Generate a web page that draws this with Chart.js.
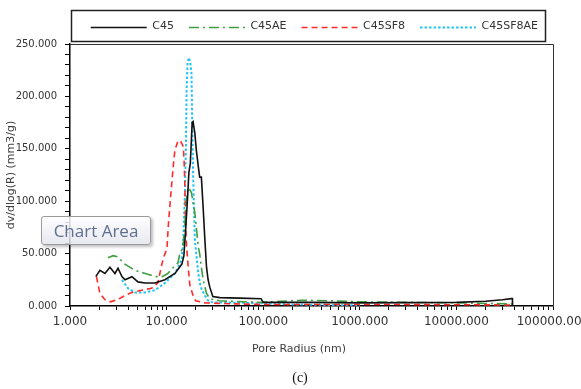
<!DOCTYPE html>
<html>
<head>
<meta charset="utf-8">
<script src="https://cdn.jsdelivr.net/npm/chart.js@4/dist/chart.umd.min.js"></script>
<style>
  html, body { margin: 0; padding: 0; background: #fff; }
  #wrap { position: relative; width: 581px; height: 389px; overflow: hidden; }
  #c { position: absolute; left: 0; top: 0; }
  .lbl { position: absolute; white-space: nowrap; transform: translate(-50%, -50%); }
  #xtitle { left: 299px; top: 348px; font: 11px "DejaVu Sans", sans-serif; color: #404040; }
  #caption { left: 300px; top: 378px; font: 14px "Liberation Serif", serif; color: #111; }
  #tip { position: absolute; left: 41px; top: 216px; width: 108px; height: 27px;
         border: 1px solid #9a9a9a; border-radius: 3px;
         background: linear-gradient(rgba(253,253,253,0.85), rgba(228,229,238,0.85));
         box-shadow: 2px 2px 3px rgba(0,0,0,0.25);
         font: 17px "Open Sans", sans-serif; color: #5f6f8f; text-align: center; line-height: 27px; }
</style>
</head>
<body>
<div id="wrap">
  <canvas id="c" width="581" height="389"></canvas>
  <div id="xtitle" class="lbl">Pore Radius (nm)</div>
  <div id="caption" class="lbl">(c)</div>
  <div id="tip">Chart Area</div>
</div>
<script>
// ---- data (pore radius in nm, dv/dlog(R) in mm3/g) ----
const seriesNames = ["C45", "C45AE", "C45SF8", "C45SF8AE"];

const c45R = [1.85, 2.04, 2.3, 2.59, 2.92, 3.14, 3.45, 3.71, 4.38, 5.05, 5.97, 7.57, 9.6, 12.2, 14.4, 15.1, 15.8, 16.5, 17.0, 17.6, 18.4, 18.8, 19.6, 20.3, 21.3, 22.0, 22.9, 23.9, 24.9, 25.9, 26.9, 28, 30.1, 35.6, 57, 95, 100, 300, 1000, 3000, 10000, 20000, 30000, 37000, 38000, 38100];
const c45V = [28, 34, 31, 37, 31, 36, 28, 25, 28, 23, 22, 22, 25, 31, 40, 48, 75, 104, 127, 136, 175, 176, 165, 149, 133, 123, 123, 94, 63, 37, 25, 18, 9, 8, 7.5, 7, 3.5, 3.5, 3, 3.2, 3.5, 4.5, 6, 7, 7, 0];

const c45aeR = [2.47, 2.8, 3.1, 3.7, 4.7, 6.0, 7.6, 9.0, 10.3, 11.5, 13.1, 13.7, 14.7, 15.5, 16.1, 16.7, 17.4, 18.1, 18.8, 19.6, 20.3, 21.3, 22.0, 22.9, 23.9, 25.9, 28, 35, 60, 100, 150, 250, 500, 1000, 3000, 10000, 38000, 38100];
const c45aeV = [46, 48, 47, 40, 34, 31, 28, 28, 31, 36, 41, 50, 55, 79, 104, 113, 111, 108, 98, 89, 75, 56, 50, 37, 25, 12, 7, 5, 4, 3.5, 4.5, 5.5, 5, 4, 3.5, 3, 2, 0];

const c45sf8R = [1.88, 2.04, 2.3, 2.6, 3.1, 3.7, 4.4, 5.5, 7.0, 8.1, 9.2, 10.1, 10.4, 11.0, 11.7, 12.2, 13.2, 14.0, 14.9, 15.2, 15.5, 15.7, 16.1, 16.7, 17.4, 18.8, 20, 25, 50, 100, 1000, 10000, 38000, 38100];
const c45sf8V = [28, 12, 6, 4, 6, 10, 13, 15, 17, 22, 45, 55, 76, 104, 133, 149, 158, 157, 152, 136, 111, 79, 57, 38, 20, 10, 5, 3, 2, 1.5, 1.5, 1.2, 1, 0];

const c45sf8aeR = [3.45, 3.98, 4.7, 5.97, 7.57, 9.6, 12.2, 14.3, 14.9, 15.5, 15.9, 16.1, 16.5, 17.0, 17.6, 18.1, 18.4, 18.8, 19.6, 21.3, 22.5, 24.9, 27, 30, 60, 100, 200, 500, 1000];
const c45sf8aeV = [25, 17, 13, 13, 15, 22, 31, 44, 63, 111, 158, 206, 232, 237, 232, 222, 177, 127, 63, 31, 18, 10, 5, 3.5, 3, 2.5, 1.5, 1, 0.5];

const xMajorTicks = [1, 10, 100, 1000, 10000, 100000];
const yMajorTicks = [0, 50, 100, 150, 200, 250];

// ---- helpers ----
const pts = (rs, vs) => rs.map((r, i) => ({ x: r, y: vs[i] }));
const xAllTicks = [];
for (let d = 0; d < xMajorTicks.length - 1; d++) {
  for (let m = 1; m <= 9; m++) xAllTicks.push(xMajorTicks[d] * m);
}
xAllTicks.push(xMajorTicks[xMajorTicks.length - 1]);

const ds = (label, data, color, dash, width) => ({
  label, data, borderColor: color, backgroundColor: color, borderWidth: width,
  borderDash: dash, pointRadius: 0, tension: 0, fill: false, borderCapStyle: 'butt'
});

const LEGEND_BOX_W = 56;

const legendHeightPlugin = {
  id: 'legendHeight',
  beforeLayout(chart) {
    const lg = chart.legend;
    if (lg && !lg._fixedH) {
      const orig = lg.fit;
      lg.fit = function () { orig.call(this); this.height = 38; };
      lg._fixedH = true;
    }
  }
};

const framePlugin = {
  id: 'frame',
  afterDraw(chart) {
    const { ctx, chartArea: a } = chart;
    ctx.save();
    ctx.strokeStyle = '#333';
    ctx.lineWidth = 1;
    ctx.beginPath();
    ctx.moveTo(a.left, a.top + 0.5);
    ctx.lineTo(a.right + 0.5, a.top + 0.5);
    ctx.lineTo(a.right + 0.5, a.bottom);
    ctx.stroke();
    // legend frame
    ctx.lineWidth = 1.5;
    ctx.strokeStyle = '#222';
    ctx.strokeRect(71.5, 10.5, 474, 31);
    // legend line samples, placed at the library's legend item positions
    const lg = chart.legend;
    if (lg && lg.legendHitBoxes) {
      lg.legendHitBoxes.forEach((hb, i) => {
        const d = chart.data.datasets[i];
        const y = Math.round(hb.top + hb.height / 2) + 0.5;
        ctx.beginPath();
        ctx.setLineDash(d.borderDash || []);
        ctx.lineWidth = d.borderWidth;
        ctx.strokeStyle = d.borderColor;
        ctx.moveTo(hb.left, y);
        ctx.lineTo(hb.left + LEGEND_BOX_W, y);
        ctx.stroke();
      });
    }
    ctx.restore();
  }
};

new Chart(document.getElementById('c'), {
  type: 'line',
  data: {
    datasets: [
      ds(seriesNames[0], pts(c45R, c45V), '#111111', [], 1.6),
      ds(seriesNames[1], pts(c45aeR, c45aeV), '#3f9e3f', [10, 4, 2, 4], 1.6),
      ds(seriesNames[2], pts(c45sf8R, c45sf8V), '#ff2a2a', [6, 4], 1.6),
      ds(seriesNames[3], pts(c45sf8aeR, c45sf8aeV), '#22c4f5', [2.5, 2], 2)
    ]
  },
  plugins: [legendHeightPlugin, framePlugin],
  options: {
    responsive: false,
    animation: false,
    layout: { padding: { top: 6, left: 0, right: 28, bottom: 0 } },
    plugins: {
      tooltip: { enabled: false },
      legend: {
        display: true,
        position: 'top',
        align: 'end',
        labels: {
          boxWidth: LEGEND_BOX_W,
          boxHeight: 0,
          padding: 15,
          color: '#333',
          font: { family: 'DejaVu Sans', size: 11 },
          generateLabels: (chart) => Chart.defaults.plugins.legend.labels.generateLabels(chart).map(it => ({
            ...it, strokeStyle: 'rgba(0,0,0,0)', fillStyle: 'rgba(0,0,0,0)', lineWidth: 0
          }))
        }
      }
    },
    scales: {
      x: {
        type: 'logarithmic',
        min: 1,
        max: 100000,
        afterBuildTicks: (scale) => { scale.ticks = xAllTicks.map(v => ({ value: v })); },
        afterFit: (scale) => { scale.height = 83; scale.paddingRight = 0; scale.paddingLeft = 0; },
        ticks: {
          autoSkip: false,
          maxRotation: 0,
          minRotation: 0,
          padding: 5,
          color: '#333',
          font: { family: 'DejaVu Sans', size: 12 },
          callback: (v) => xMajorTicks.includes(v) ? v.toFixed(3) : ''
        },
        grid: { display: true, drawOnChartArea: false, drawTicks: true, tickLength: 4, color: '#000', lineWidth: 1 },
        border: { display: true, color: '#000', width: 1.5 }
      },
      y: {
        type: 'linear',
        min: 0,
        max: 250,
        afterFit: (scale) => { scale.width = 70; },
        ticks: {
          stepSize: 10,
          autoSkip: false,
          padding: 8,
          color: '#333',
          font: { family: 'DejaVu Sans', size: 10 },
          callback: (v) => yMajorTicks.includes(v) ? v.toFixed(3) : ''
        },
        title: {
          display: true,
          text: 'dv/dlog(R) (mm3/g)',
          color: '#404040',
          font: { family: 'DejaVu Sans', size: 11 },
          padding: { top: 5, bottom: 0 }
        },
        grid: { display: true, drawOnChartArea: false, drawTicks: true, tickLength: 5, color: '#000', lineWidth: 1 },
        border: { display: true, color: '#000', width: 1.5 }
      }
    }
  }
});
</script>
</body>
</html>
